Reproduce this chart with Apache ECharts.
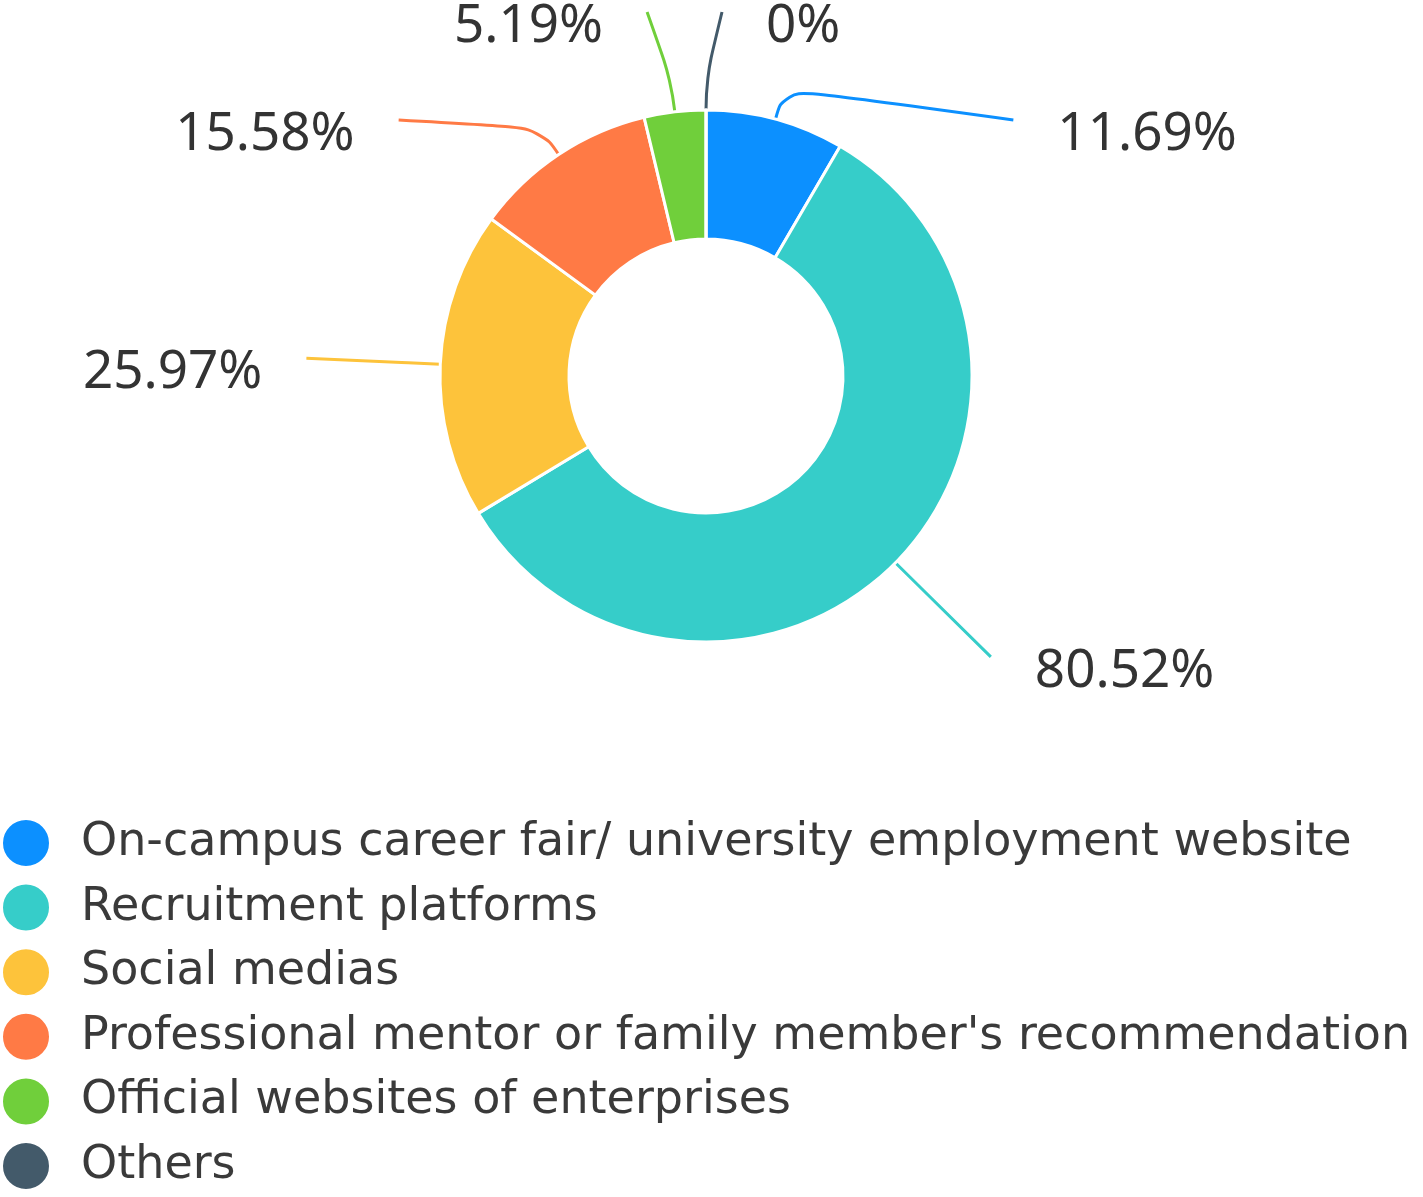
<!DOCTYPE html>
<html><head><meta charset="utf-8">
<style>html,body{margin:0;padding:0;background:#fff}#c{width:1423px;height:1197px}</style>
<script src="https://cdn.jsdelivr.net/npm/echarts@6/dist/echarts.min.js"></script>
</head><body><div id="c"></div>
<script>
const categories = [
  'On-campus career fair/ university employment website',
  'Recruitment platforms',
  'Social medias',
  "Professional mentor or family member's recommendation",
  'Official websites of enterprises',
  'Others'
];
const values = [11.69, 80.52, 25.97, 15.58, 5.19, 0];
const colors = ['#0C90FF', '#36CDC9', '#FDC33B', '#FF7A45', '#70CF3B', '#435A6A'];

const chart = echarts.init(document.getElementById('c'));
const CX = 706, CY = 376, R0 = 137, R1 = 266;
const RL = 400, KNEE = 32, TOP = 12, GAP = 108, TXT = 44;

// spider-style label distribution computed from the data angles
const total = values.reduce((a, b) => a + b, 0);
let acc = 0;
const lay = values.map((v, i) => {
  let a = ((acc + v / 2) / total * 2 * Math.PI) % (2 * Math.PI);
  acc += v;
  return { i, a, right: Math.sin(a) >= -1e-9, ny: CY - RL * Math.cos(a) };
});
[true, false].forEach(side => {
  const items = lay.filter(d => d.right === side).sort((p, q) => p.ny - q.ny);
  let prev = -Infinity;
  items.forEach(d => {
    const base = Math.max(d.ny, TOP);
    const y = Math.max(base, prev + GAP);
    d.y = y;
    d.pushed = y > base;
    d.clamped = base > d.ny;
    const s = side ? 1 : -1;
    if (d.clamped && !d.pushed) {
      d.x = CX + (CY - y) * Math.tan(d.a) + s * 16;
    } else {
      d.x = CX + s * Math.sqrt(Math.max(0, RL * RL - (y - CY) * (y - CY)));
    }
    prev = y;
  });
});

chart.setOption({
  animation: false,
  color: colors,
  legend: {
    orient: 'vertical',
    left: -4,
    top: 813,
    height: 384,
    icon: 'circle',
    itemWidth: 48,
    itemHeight: 48,
    itemGap: 14.6,
    textStyle: { fontSize: 46, lineHeight: 48, color: '#3a3a3a', fontFamily: 'DejaVu Sans', padding: [0, 0, 0, 26] },
    data: categories
  },
  series: [{
    type: 'pie',
    center: [CX, CY],
    radius: [R0, R1],
    clockwise: true,
    startAngle: 90,
    avoidLabelOverlap: false,
    itemStyle: { borderColor: '#fff', borderWidth: 3 },
    label: {
      show: true,
      formatter: p => p.value + '%',
      fontSize: 53,
      fontFamily: 'Noto Sans',
      color: '#333',
      overflow: 'none'
    },
    labelLine: { show: true, length: 30, length2: 20, smooth: 0.5, lineStyle: { width: 3 } },
    labelLayout: function (params) {
      const d = lay[params.dataIndex];
      const s = d.right ? 1 : -1;
      const ex = CX + R1 * Math.sin(d.a), ey = CY - R1 * Math.cos(d.a);
      const kx = CX + (R1 + KNEE) * Math.sin(d.a), ky = CY - (R1 + KNEE) * Math.cos(d.a);
      return {
        x: d.x + s * TXT,
        y: d.y + 15,
        align: d.right ? 'left' : 'right',
        verticalAlign: 'middle',
        labelLinePoints: [[ex, ey], [kx, ky], [d.x, d.y]]
      };
    },
    data: categories.map((c, i) => ({ name: c, value: values[i] }))
  }]
});
</script>
</body></html>
